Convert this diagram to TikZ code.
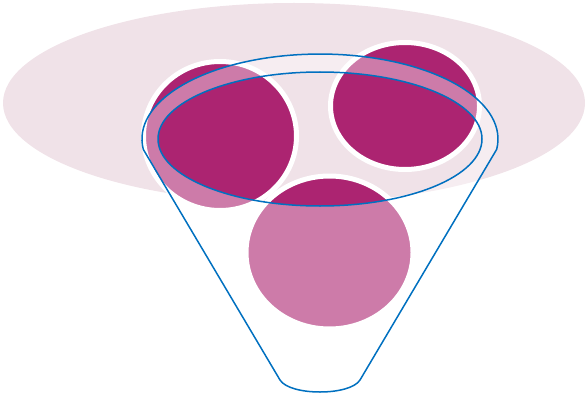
\documentclass[tikz,border=0pt]{standalone}
\usepackage{tikz}
\definecolor{plum}{RGB}{172,36,113}
\definecolor{haze}{RGB}{240,226,232}
\definecolor{rimblue}{RGB}{0,112,192}
\begin{document}
\begin{tikzpicture}[
  x=1pt,y=-1pt,
  disc/.style={fill=plum,draw=white,line width=5pt},
  veil/.style={fill=white,fill opacity=.4,even odd rule},
  rim/.style={draw=rimblue,line width=1.5pt,line join=round}
]
\useasboundingbox (0,0) rectangle (585,393);
\fill[haze] (294,103) ellipse [x radius=291,y radius=100];
\draw[disc] (220,136) ellipse [x radius=76.5,y radius=74.5];
\draw[disc] (405,106) ellipse [x radius=74.5,y radius=63.5];
\draw[disc] (329.5,252.5) ellipse [x radius=83.5,y radius=76.5];
\coordinate (lip) at (143.3,149.4);
\coordinate (spoutR) at (360,380);
\coordinate (spoutL) at (280,380);
\coordinate (mouth) at (320,139);
\path[veil] (lip) arc [start angle=173,end angle=367,x radius=178,y radius=85]
  -- (spoutR) .. controls (350,396) and (290,396) .. (spoutL) -- cycle
  (mouth) ellipse [x radius=162,y radius=67];
\draw[rim] (lip) arc [start angle=173,end angle=367,x radius=178,y radius=85]
  -- (spoutR) .. controls (350,396) and (290,396) .. (spoutL) -- cycle;
\draw[rim] (mouth) ellipse [x radius=162,y radius=67];
\end{tikzpicture}
\end{document}
